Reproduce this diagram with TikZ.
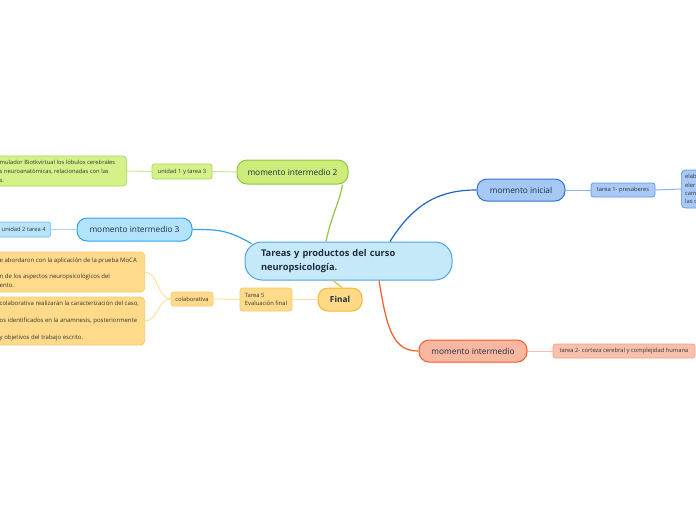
\documentclass[tikz,border=0pt]{standalone}
\usepackage{fontspec}
\setmainfont{Open Sans}
\definecolor{txtmain}{HTML}{1F2D3D}
\definecolor{txtsub}{HTML}{333333}
\definecolor{cenfill}{HTML}{C6E9FA}
\definecolor{cenline}{HTML}{4FA3DB}
\definecolor{grfill}{HTML}{CDEC7A}
\definecolor{grline}{HTML}{8DC63F}
\definecolor{grsubfill}{HTML}{D5F18A}
\definecolor{grsubline}{HTML}{A8D65E}
\definecolor{grconn}{HTML}{C8E690}
\definecolor{lbfill}{HTML}{B3E3FA}
\definecolor{lbline}{HTML}{2FA3EE}
\definecolor{lbsubfill}{HTML}{B8E4FA}
\definecolor{lbsubline}{HTML}{6CC0F2}
\definecolor{lbconn}{HTML}{A5D8F5}
\definecolor{dbfill}{HTML}{A5C8F5}
\definecolor{dbline}{HTML}{2F74D0}
\definecolor{dbconn}{HTML}{1E64C8}
\definecolor{dbsubfill}{HTML}{A9CAF6}
\definecolor{dbsubline}{HTML}{5E95E3}
\definecolor{dbsubconn}{HTML}{8AB4EE}
\definecolor{safill}{HTML}{F8B7A0}
\definecolor{saline}{HTML}{F15A24}
\definecolor{sasubfill}{HTML}{F9C0AC}
\definecolor{sasubline}{HTML}{F3A08A}
\definecolor{saconn}{HTML}{F8BFAB}
\definecolor{yefill}{HTML}{FFD985}
\definecolor{yeline}{HTML}{F5B731}
\definecolor{yesubfill}{HTML}{FFDA8A}
\definecolor{yesubline}{HTML}{F9C96B}
\definecolor{yeconn}{HTML}{FCE0A0}
\tikzset{
  mainnode/.style={draw, line width=1pt, rounded corners=10pt, inner sep=0pt,
    font=\fontsize{8.3}{10}\selectfont, text=txtmain},
  subnode/.style={draw, line width=0.7pt, rounded corners=2.5pt, inner sep=0pt,
    font=\fontsize{5.8}{7}\selectfont, text=txtsub},
  boxtext/.style={inner sep=0pt, align=left, text=txtsub},
  mainconn/.style={line width=1.2pt},
  subconn/.style={line width=1pt},
}
\begin{document}
\begin{tikzpicture}[x=1pt,y=-1pt]
\useasboundingbox (0,0) rectangle (696,520);
\clip (0,0) rectangle (696,520);

% central
\node[draw=cenline, fill=cenfill, line width=1pt, rounded corners=17pt, inner xsep=16pt, inner ysep=0pt,
  minimum height=38pt, text width=175pt, align=left, text=txtmain,
  font=\fontsize{9.3}{14}\selectfont\bfseries] (central) at (348.5,261)
  {Tareas y productos del curso\\neuropsicología.};

% green branch
\node[mainnode, draw=grline, fill=grfill, minimum width=111pt, minimum height=24pt] (mi2) at (292.5,172) {momento intermedio 2};
\node[subnode, draw=grsubline, fill=grsubfill, minimum width=60pt, minimum height=15pt] (u13) at (182,171.5) {unidad 1 y tarea 3};
\node[subnode, draw=grsubline, fill=grsubfill, minimum width=140pt, minimum height=30pt, anchor=east, rounded corners=4pt] (g1) at (127,171) {};
\node[boxtext, anchor=west, font=\fontsize{5.8}{9}\selectfont] (g1t) at (-0.5,171.5)
  {mulador Biotkvirtual los lóbulos cerebrales\\s neuroanatómicas, relacionadas con las\\s.};

% light blue branch
\node[mainnode, draw=lbline, fill=lbfill, minimum width=115pt, minimum height=23pt] (mi3) at (134.5,229.5) {momento intermedio 3};
\node[subnode, draw=lbsubline, fill=lbsubfill, minimum width=60pt, minimum height=15pt, anchor=east] (u24) at (51,229.5) {};
\node[boxtext, anchor=west, font=\fontsize{5.8}{7}\selectfont] (u24t) at (1.5,229.5) {unidad 2 tarea 4};

% yellow branch
\node[mainnode, draw=yeline, fill=yefill, minimum width=44pt, minimum height=23pt, font=\fontsize{8.3}{10}\selectfont\bfseries] (final) at (340,299.5) {Final};
\node[subnode, draw=yesubline, fill=yesubfill, minimum width=52pt, minimum height=23pt, align=left, font=\fontsize{5.8}{7.5}\selectfont] (t5) at (266,299.5) {Tarea 5\\Evaluación final};
\node[subnode, draw=yesubline, fill=yesubfill, minimum width=42pt, minimum height=14pt] (colab) at (192,299) {colaborativa};
\node[subnode, draw=yesubline, fill=yesubfill, minimum width=160pt, minimum height=40pt, anchor=east, rounded corners=4pt] (y1) at (145,272) {};
\node[boxtext, anchor=west, font=\fontsize{6}{8.3}\selectfont] (y1t) at (-0.5,272.5)
  {e abordaron con la aplicación de la prueba MoCA\\[8.3pt]n de los aspectos neuropsicológicos del\\ento.};
\node[subnode, draw=yesubline, fill=yesubfill, minimum width=160pt, minimum height=48pt, anchor=east, rounded corners=4pt] (y2) at (145,321) {};
\node[boxtext, anchor=west, font=\fontsize{6}{8.5}\selectfont] (y2t) at (-0.5,321)
  {colaborativa realizarán la caracterización del caso,\\[8.5pt]os identificados en la anamnesis, posteriormente\\[8.5pt]y objetivos del trabajo escrito.};

% dark blue branch
\node[mainnode, draw=dbline, fill=dbfill, minimum width=88pt, minimum height=22pt] (mini) at (521,190) {momento inicial};
\node[subnode, draw=dbsubline, fill=dbsubfill, minimum width=64pt, minimum height=14pt] (t1) at (623,190) {tarea 1- presaberes};
\node[subnode, draw=dbsubline, fill=dbsubfill, minimum width=40pt, minimum height=38pt, anchor=west, rounded corners=4pt] (rb) at (681,189) {};
\node[boxtext, anchor=west, font=\fontsize{5.8}{8.3}\selectfont] (rbt) at (685,189) {elab\\eler\\cam\\las c};

% salmon branch
\node[mainnode, draw=saline, fill=safill, minimum width=108pt, minimum height=22pt] (mint) at (473,351) {momento intermedio};
\node[subnode, draw=sasubline, fill=sasubfill, minimum width=142pt, minimum height=14pt] (t2) at (624,351) {tarea 2- corteza cerebral y complejidad humana};

% main connectors
\draw[mainconn, draw=grline] ([xshift=-22.5pt]central.north) .. controls +(5,-25) and +(-2,15) .. ([xshift=50pt]mi2.south);
\draw[mainconn, draw=dbconn] ([xshift=41.5pt]central.north) .. controls +(25,-40) and +(-35,0) .. (mini.west);
\draw[mainconn, draw=saline] ([xshift=30.5pt]central.south) .. controls +(8,50) and +(-25,0) .. (mint.west);
\draw[mainconn, draw=yeline] ([xshift=-15.5pt]central.south) -- ([xshift=2pt]final.north);
\draw[mainconn, draw=lbline] ([shift={(7,2)}]central.north west) .. controls +(-25,-14) and +(25,0) .. (mi3.east);

% sub connectors
\draw[subconn, draw=grconn] (mi2.west) -- (u13.east);
\draw[subconn, draw=grconn] (u13.west) -- (g1.east);
\draw[subconn, draw=lbconn] (mi3.west) -- (u24.east);
\draw[subconn, draw=yeconn] (final.west) -- (t5.east);
\draw[subconn, draw=yeconn] (t5.west) -- (colab.east);
\draw[subconn, draw=yeconn] (colab.west) .. controls +(-13,0) and +(13,0) .. (y1.east);
\draw[subconn, draw=yeconn] (colab.west) .. controls +(-13,0) and +(13,0) .. (y2.east);
\draw[subconn, draw=dbsubconn] (mini.east) -- (t1.west);
\draw[subconn, draw=dbsubconn] (t1.east) -- (rb.west);
\draw[subconn, draw=saconn] (mint.east) -- (t2.west);
\end{tikzpicture}
\end{document}
